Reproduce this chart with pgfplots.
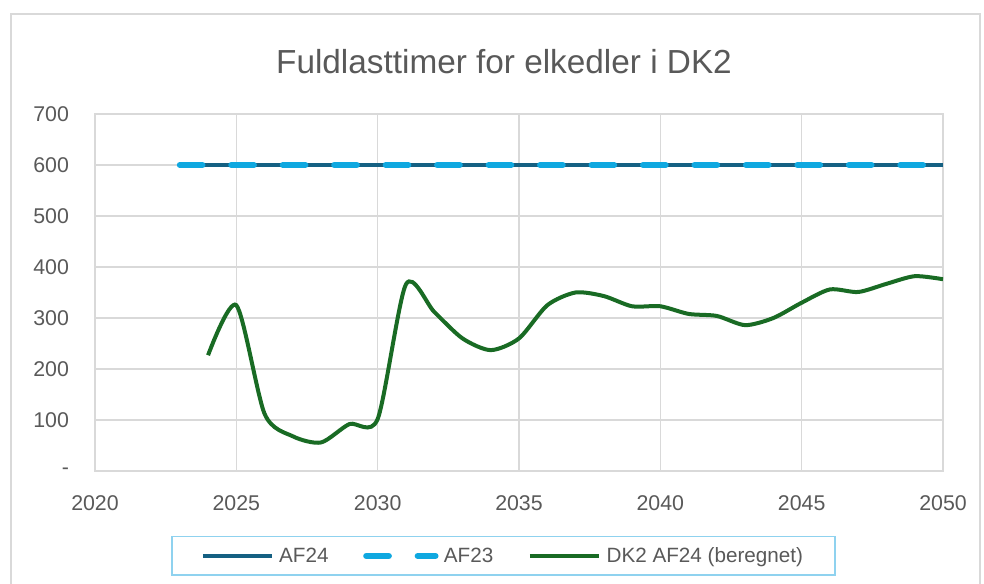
\documentclass[border=0pt]{standalone}
\usepackage{fontspec}
\setmainfont{Liberation Sans}
\usepackage{pgfplots}
\pgfplotsset{compat=1.18}
\definecolor{af24}{HTML}{156082}
\definecolor{af23}{HTML}{0FA8E0}
\definecolor{dk2}{HTML}{196B24}
\definecolor{gridc}{HTML}{D9D9D9}
\definecolor{txt}{HTML}{595959}
\definecolor{legbd}{HTML}{8FD2EF}
\begin{document}
\begin{tikzpicture}[x=0.75pt,y=0.75pt]
\useasboundingbox (-95,-113) rectangle (889,471);
\draw[gridc, line width=1pt] (-84,-114) -- (-84,457) -- (885,457) -- (885,-114);
\node[text=txt, font=\fontsize{25}{30}\selectfont] at (409,409) {Fuldlasttimer for elkedler i DK2};
\begin{axis}[
  at={(0,0)}, anchor=south west,
  scale only axis, width=636pt, height=267.75pt,
  xmin=2020, xmax=2050, ymin=0, ymax=700,
  xtick={2020,2025,...,2050},
  ytick={0,100,...,700},
  yticklabels={-,100,200,300,400,500,600,700},
  /pgf/number format/1000 sep={},
  /pgf/number format/assume math mode=true,
  grid=major,
  major grid style={gridc, line width=0.9pt},
  axis line style={gridc, line width=0.9pt},
  tick style={draw=none},
  ticklabel style={font=\fontsize{16}{19}\selectfont, text=txt},
  xticklabel style={yshift=-15pt},
  yticklabel style={xshift=-16pt},
  legend columns=3,
  legend style={at={(axis description cs:0.4817,-0.238)}, anchor=center,
    draw=legbd, line width=1pt, font=\fontsize{15.5}{18}\selectfont, text=txt,
    inner xsep=22pt, inner ysep=6pt,
    /tikz/every odd column/.append style={column sep=2pt},
    /tikz/every even column/.append style={column sep=24pt}},
  legend image code/.code={\draw[#1] (0pt,0pt) -- (52pt,0pt);},
]
\addplot[af24, line width=2.4pt] coordinates {(2023,600) (2050,600)};
\addlegendentry{AF24}
\addplot[af23, line width=4.5pt, line cap=round, dash pattern=on 17pt off 21.6pt] coordinates {(2023,600) (2050,600)};
\addlegendentry{AF23}
\addplot[dk2, line width=3pt, smooth, tension=0.45] coordinates {
(2024,227) (2025,325) (2026,112) (2027,68) (2028,56) (2029,92) (2030,102)
(2031,366) (2032,312) (2033,260) (2034,237) (2035,260) (2036,325) (2037,350)
(2038,343) (2039,323) (2040,323) (2041,308) (2042,304) (2043,286) (2044,300)
(2045,330) (2046,356) (2047,351) (2048,367) (2049,382) (2050,376)};
\addlegendentry{DK2 AF24 (beregnet)}
\end{axis}
\end{tikzpicture}
\end{document}
